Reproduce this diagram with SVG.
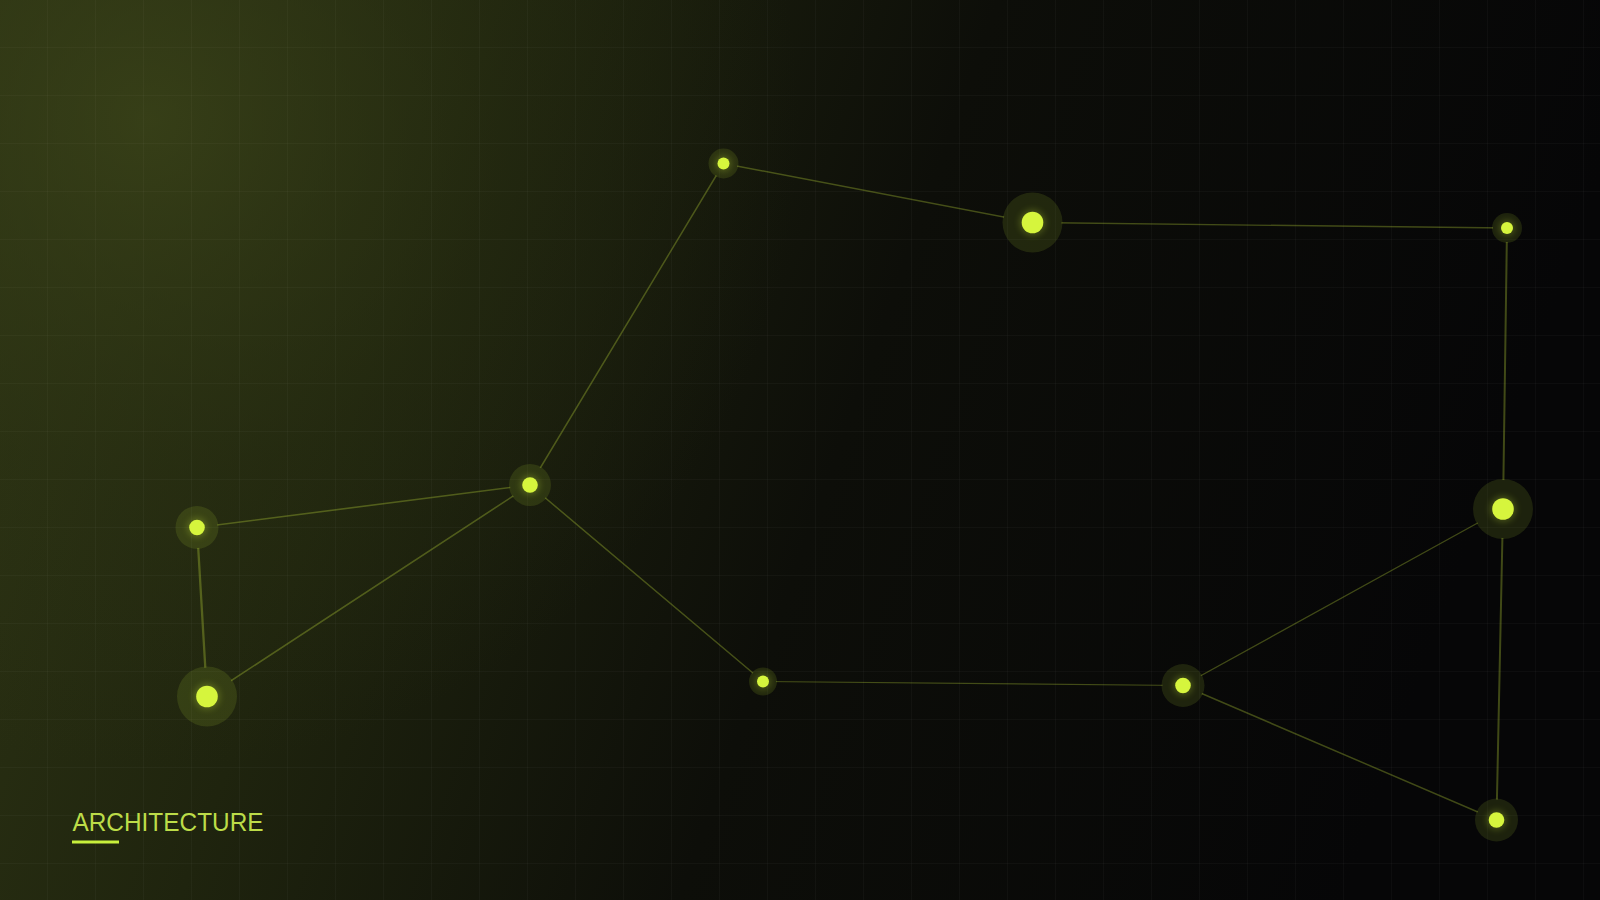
<svg xmlns="http://www.w3.org/2000/svg" width="1600" height="900" viewBox="0 0 1600 900">
  <defs>
    <linearGradient id="bgLin" x1="0" y1="0" x2="1" y2="0.2">
      <stop offset="0" stop-color="#2f3615"/>
      <stop offset="0.3" stop-color="#1f240e"/>
      <stop offset="0.6" stop-color="#0d0e09"/>
      <stop offset="1" stop-color="#060607"/>
    </linearGradient>
    <radialGradient id="bgRad" cx="150" cy="120" r="650" gradientUnits="userSpaceOnUse">
      <stop offset="0" stop-color="#3b4419" stop-opacity="0.75"/>
      <stop offset="0.55" stop-color="#2e3514" stop-opacity="0.3"/>
      <stop offset="1" stop-color="#2e3514" stop-opacity="0"/>
    </radialGradient>
    <pattern id="grid" width="48" height="48" patternUnits="userSpaceOnUse">
      <path d="M48 0 V48 M0 48 H48" fill="none" stroke="#ffffff" stroke-opacity="0.05" stroke-width="1"/>
    </pattern>
    <filter id="glow" x="-100%" y="-100%" width="300%" height="300%">
      <feGaussianBlur stdDeviation="3"/>
    </filter>
    <mask id="edgeMask" maskUnits="userSpaceOnUse" x="0" y="0" width="1600" height="900">
      <rect width="1600" height="900" fill="#fff"/>
      <g fill="#000">
        <circle cx="723.5" cy="163.5" r="14"/>
        <circle cx="1032.5" cy="222.5" r="29"/>
        <circle cx="1507" cy="228" r="14"/>
        <circle cx="1503" cy="509" r="29"/>
        <circle cx="1496.5" cy="820" r="20.5"/>
        <circle cx="1183" cy="685.5" r="20.5"/>
        <circle cx="763" cy="681.5" r="13"/>
        <circle cx="530" cy="485" r="20"/>
        <circle cx="197" cy="527.5" r="20.5"/>
        <circle cx="207" cy="696.5" r="29"/>
      </g>
    </mask>
  </defs>
  <style>
    .edge { stroke: #c8e63c; stroke-opacity: 0.3; fill: none; stroke-linecap: round; }
    .halo { fill: #c8f03c; fill-opacity: 0.12; }
    .dot { fill: #d6f53d; }
    .glow { fill: #d6f53d; opacity: 0.22; }
    .label { font-family: "Liberation Sans", Arial, sans-serif; font-size: 26px; fill: #bcdc48; }
  </style>

  <rect width="1600" height="900" fill="url(#bgLin)"/>
  <rect width="1600" height="900" fill="url(#bgRad)"/>
  <rect width="1600" height="900" fill="url(#grid)"/>

  <g id="connectors" mask="url(#edgeMask)">
    <line class="edge" stroke-width="1.5" x1="723.5" y1="163.5" x2="1032.5" y2="222.5"/>
    <line class="edge" stroke-width="1.3" x1="1032.5" y1="222.5" x2="1507" y2="228"/>
    <line class="edge" stroke-width="2" x1="1507" y1="228" x2="1503" y2="509"/>
    <line class="edge" stroke-width="2" x1="1503" y1="509" x2="1496.5" y2="820"/>
    <line class="edge" stroke-width="1.3" x1="1503" y1="509" x2="1183" y2="685.5"/>
    <line class="edge" stroke-width="1.5" x1="1183" y1="685.5" x2="1496.5" y2="820"/>
    <line class="edge" stroke-width="1.2" x1="1183" y1="685.5" x2="763" y2="681.5"/>
    <line class="edge" stroke-width="1.5" x1="763" y1="681.5" x2="530" y2="485"/>
    <line class="edge" stroke-width="1.5" x1="530" y1="485" x2="723.5" y2="163.5"/>
    <line class="edge" stroke-width="1.6" x1="530" y1="485" x2="197" y2="527.5"/>
    <line class="edge" stroke-width="1.6" x1="530" y1="485" x2="207" y2="696.5"/>
    <line class="edge" stroke-width="2.3" x1="197" y1="527.5" x2="207" y2="696.5"/>
  </g>

  <g id="node-1"><circle class="halo" cx="723.5" cy="163.5" r="15"/><circle class="glow" cx="723.5" cy="163.5" r="8" filter="url(#glow)"/><circle class="dot" cx="723.5" cy="163.5" r="6"/></g>
  <g id="node-2"><circle class="halo" cx="1032.5" cy="222.5" r="30"/><circle class="glow" cx="1032.5" cy="222.5" r="13" filter="url(#glow)"/><circle class="dot" cx="1032.5" cy="222.5" r="10.8"/></g>
  <g id="node-3"><circle class="halo" cx="1507" cy="228" r="15"/><circle class="glow" cx="1507" cy="228" r="8" filter="url(#glow)"/><circle class="dot" cx="1507" cy="228" r="6"/></g>
  <g id="node-4"><circle class="halo" cx="1503" cy="509" r="30"/><circle class="glow" cx="1503" cy="509" r="13" filter="url(#glow)"/><circle class="dot" cx="1503" cy="509" r="10.8"/></g>
  <g id="node-5"><circle class="halo" cx="1496.5" cy="820" r="21.5"/><circle class="glow" cx="1496.5" cy="820" r="10" filter="url(#glow)"/><circle class="dot" cx="1496.5" cy="820" r="7.8"/></g>
  <g id="node-6"><circle class="halo" cx="1183" cy="685.5" r="21.5"/><circle class="glow" cx="1183" cy="685.5" r="10" filter="url(#glow)"/><circle class="dot" cx="1183" cy="685.5" r="7.8"/></g>
  <g id="node-7"><circle class="halo" cx="763" cy="681.5" r="14"/><circle class="glow" cx="763" cy="681.5" r="8" filter="url(#glow)"/><circle class="dot" cx="763" cy="681.5" r="6"/></g>
  <g id="node-8"><circle class="halo" cx="530" cy="485" r="21"/><circle class="glow" cx="530" cy="485" r="10" filter="url(#glow)"/><circle class="dot" cx="530" cy="485" r="7.8"/></g>
  <g id="node-9"><circle class="halo" cx="197" cy="527.5" r="21.5"/><circle class="glow" cx="197" cy="527.5" r="10" filter="url(#glow)"/><circle class="dot" cx="197" cy="527.5" r="7.8"/></g>
  <g id="node-10"><circle class="halo" cx="207" cy="696.5" r="30"/><circle class="glow" cx="207" cy="696.5" r="13" filter="url(#glow)"/><circle class="dot" cx="207" cy="696.5" r="10.8"/></g>

  <g id="title">
    <text class="label" x="72.5" y="831" textLength="191" lengthAdjust="spacingAndGlyphs">ARCHITECTURE</text>
    <rect x="72" y="840.5" width="47" height="3" fill="#c8f03c"/>
  </g>
</svg>
